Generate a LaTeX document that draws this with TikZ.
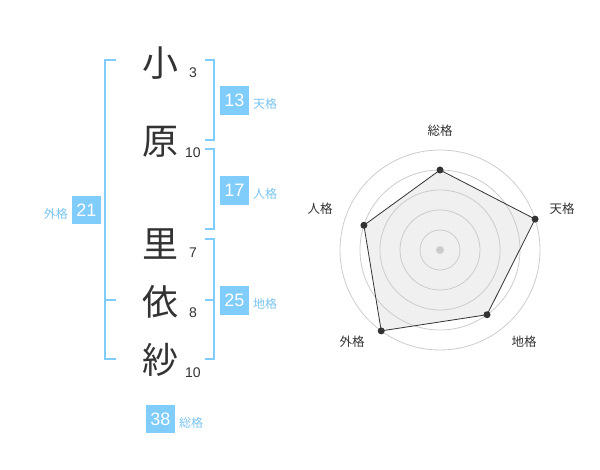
\documentclass[tikz,border=0pt]{standalone}
\usepackage{fontspec}
\setmainfont{Liberation Sans}
\newfontfamily\jp{Noto Sans CJK JP}
\definecolor{sky}{RGB}{128,204,250}
\definecolor{skytext}{RGB}{120,196,240}
\definecolor{ink}{RGB}{51,51,51}
\definecolor{ring}{RGB}{204,204,204}
\definecolor{area}{RGB}{240,240,240}
\tikzset{
  kanji/.style={inner sep=0pt, text=ink, font=\jp\fontsize{36}{36}\selectfont},
  strokes/.style={inner sep=0pt, text=ink, font=\fontsize{14}{14}\selectfont},
  scorebox/.style={fill=sky, text=white, minimum width=28.5pt, minimum height=28.5pt, inner sep=0pt, font=\fontsize{18}{18}\selectfont},
  scorelabel/.style={inner sep=0pt, text=skytext, font=\jp\fontsize{12}{12}\selectfont},
  bracket/.style={draw=sky, line width=2pt},
  axislabel/.style={inner sep=0pt, text=ink, font=\jp\fontsize{12.5}{12.5}\selectfont},
  dot/.style={circle, fill=ink, inner sep=0pt, minimum size=7pt},
}
\begin{document}
\begin{tikzpicture}[x=1pt,y=-1pt]
\useasboundingbox (0,0) rectangle (600,470);
% characters
\node[kanji] (k1) at (160,63) {小};
\node[kanji] (k2) at (160,142) {原};
\node[kanji] (k3) at (160,244) {里};
\node[kanji] (k4) at (160,302) {依};
\node[kanji] (k5) at (160,360) {紗};
\node[strokes] (s1) at (193,73) {3};
\node[strokes] (s2) at (193,153) {10};
\node[strokes] (s3) at (193,253) {7};
\node[strokes] (s4) at (193,313) {8};
\node[strokes] (s5) at (193,373) {10};
% brackets
\draw[bracket] (116,60) -- (105,60) -- (105,359) -- (116,359);
\draw[bracket] (105,300) -- (116,300);
\draw[bracket] (205,60) -- (214,60) -- (214,140) -- (205,140);
\draw[bracket] (205,149) -- (214,149) -- (214,229) -- (205,229);
\draw[bracket] (205,239) -- (214,239) -- (214,359) -- (205,359);
\draw[bracket] (205,300) -- (214,300);
% score boxes
\node[scorebox] (ten) at (234.5,100.5) {13};
\node[scorelabel, anchor=west] (tenl) at (253,104) {天格};
\node[scorebox] (jin) at (234.5,190.5) {17};
\node[scorelabel, anchor=west] (jinl) at (253,194) {人格};
\node[scorebox] (chi) at (234.5,300.5) {25};
\node[scorelabel, anchor=west] (chil) at (253,304) {地格};
\node[scorebox] (gai) at (86.5,210) {21};
\node[scorelabel, anchor=east] (gail) at (68,213.5) {外格};
\node[scorebox] (sou) at (160.5,419) {38};
\node[scorelabel, anchor=west] (soul) at (179,423) {総格};
% radar chart
\begin{scope}[shift={(440,250)}, yscale=-1]
  \coordinate (p1) at (90:80);
  \coordinate (p2) at (18:100);
  \coordinate (p3) at (-54:80);
  \coordinate (p4) at (-126:100);
  \coordinate (p5) at (162:80);
  \fill[area] (p1) -- (p2) -- (p3) -- (p4) -- (p5) -- cycle;
  \foreach \r in {20,40,60,80,100} \draw[ring, line width=0.8pt] (0,0) circle (\r);
  \fill[ring] (0,0) circle (4);
  \draw[ink, line width=0.8pt] (p1) -- (p2) -- (p3) -- (p4) -- (p5) -- cycle;
  \foreach \p in {p1,p2,p3,p4,p5} \node[dot] at (\p) {};
\end{scope}
\node[axislabel] (a1) at (440,130.5) {総格};
\node[axislabel] (a2) at (562,208.5) {天格};
\node[axislabel] (a3) at (524,342) {地格};
\node[axislabel] (a4) at (352,342) {外格};
\node[axislabel] (a5) at (320,208.5) {人格};
\end{tikzpicture}
\end{document}
